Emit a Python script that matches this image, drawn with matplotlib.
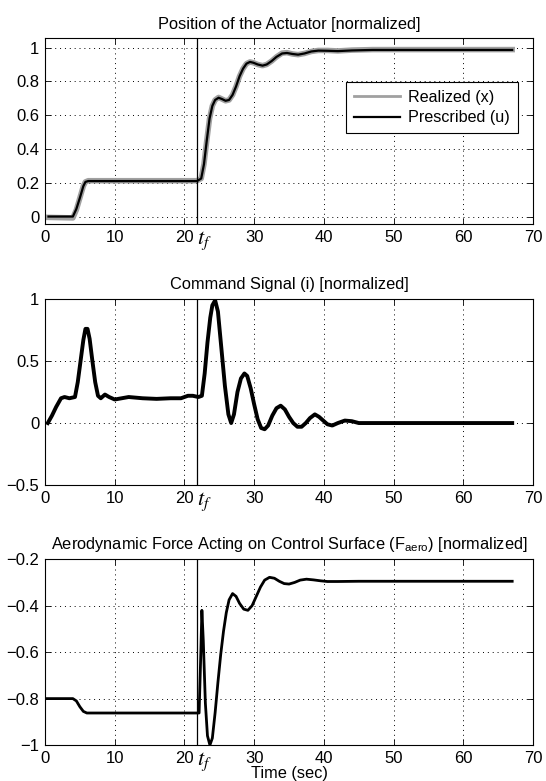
import numpy as np
import matplotlib
matplotlib.use("Agg")
import matplotlib.pyplot as plt
from matplotlib.transforms import blended_transform_factory

plt.rcParams['font.family'] = ['Liberation Sans', 'DejaVu Sans']
plt.rcParams['mathtext.fontset'] = 'stix'

T_F = 21.85

# position of the actuator
t_u = [0.5, 4.0, 4.5, 5.0, 5.5, 5.8, 6.2, 21.8, 22.4, 22.8, 23.2, 23.6, 24.0, 24.4,
       24.9, 25.4, 25.9, 26.4, 26.9, 27.4, 27.9, 28.4, 28.9, 29.4, 29.9, 30.5, 31.2,
       31.8, 32.5, 33.2, 34.0, 34.7, 35.5, 36.3, 37.2, 38.2, 39.2, 40.5, 42, 44, 47, 67]
u_pres = [0, 0, 0.045, 0.11, 0.18, 0.205, 0.21, 0.21, 0.225, 0.31, 0.45, 0.58, 0.655,
          0.69, 0.703, 0.695, 0.685, 0.69, 0.72, 0.77, 0.83, 0.875, 0.905, 0.915, 0.91,
          0.9, 0.893, 0.9, 0.92, 0.945, 0.965, 0.968, 0.962, 0.958, 0.965, 0.977, 0.982,
          0.981, 0.979, 0.983, 0.986, 0.986]
x_real = [-0.005, -0.008, 0.04, 0.11, 0.18, 0.205, 0.212, 0.212, 0.225, 0.31, 0.45, 0.58,
          0.655, 0.69, 0.705, 0.695, 0.685, 0.69, 0.72, 0.77, 0.83, 0.875, 0.905, 0.915,
          0.91, 0.9, 0.893, 0.9, 0.92, 0.945, 0.967, 0.97, 0.962, 0.958, 0.965, 0.977,
          0.983, 0.983, 0.98, 0.985, 0.988, 0.988]

# command signal
t_i = [0.4, 1.0, 1.6, 2.3, 2.8, 3.5, 4.3, 4.7, 5.1, 5.5, 5.8, 6.1, 6.4, 6.8, 7.2, 7.6,
       8.0, 8.6, 9.2, 10, 11, 12, 14, 16, 18, 19.5, 20.5, 21.2, 22.0, 22.5, 22.9, 23.3,
       23.7, 24.0, 24.4, 24.8, 25.3, 25.8, 26.3, 26.7, 27.1, 27.6, 28.1, 28.6, 29.0,
       29.5, 30.0, 30.5, 31.0, 31.5, 32.0, 32.6, 33.2, 33.8, 34.4, 35.0, 35.6, 36.2,
       36.8, 37.4, 38.0, 38.7, 39.3, 39.9, 40.5, 41.2, 42, 43, 44, 45, 47, 50, 55, 60, 67]
i_cmd = [0, 0.06, 0.13, 0.2, 0.21, 0.2, 0.21, 0.33, 0.5, 0.67, 0.76, 0.76, 0.68, 0.5,
         0.33, 0.22, 0.2, 0.23, 0.21, 0.19, 0.2, 0.21, 0.2, 0.195, 0.2, 0.2, 0.22, 0.22,
         0.21, 0.22, 0.4, 0.65, 0.85, 0.95, 0.99, 0.9, 0.6, 0.3, 0.07, 0.0, 0.07, 0.25,
         0.36, 0.4, 0.38, 0.28, 0.15, 0.03, -0.04, -0.05, -0.02, 0.06, 0.12, 0.14, 0.11,
         0.05, 0.0, -0.03, -0.03, 0.0, 0.04, 0.07, 0.05, 0.02, -0.01, -0.02, 0.0, 0.02,
         0.015, 0.0, 0.0, 0.0, 0.0, 0.0, 0.0]

# aerodynamic force
t_f = [0.3, 4.0, 4.5, 5.0, 5.5, 6.0, 22.1, 22.35, 22.5, 22.7, 23.0, 23.3, 23.65, 24.0,
       24.4, 24.8, 25.2, 25.6, 26.0, 26.4, 26.9, 27.4, 27.9, 28.5, 29.1, 29.7, 30.3,
       30.9, 31.5, 32.2, 32.9, 33.6, 34.3, 35.0, 35.8, 36.6, 37.5, 38.5, 39.5, 40.5,
       42, 45, 50, 60, 67]
f_aero = [-0.8, -0.8, -0.81, -0.835, -0.855, -0.862, -0.862, -0.6, -0.42, -0.55, -0.82,
          -0.96, -1.0, -0.97, -0.86, -0.73, -0.61, -0.51, -0.43, -0.375, -0.348, -0.36,
          -0.39, -0.415, -0.42, -0.40, -0.36, -0.32, -0.29, -0.278, -0.282, -0.295,
          -0.305, -0.307, -0.30, -0.29, -0.286, -0.289, -0.293, -0.296, -0.296, -0.295,
          -0.295, -0.295, -0.295]

fig = plt.figure(figsize=(5.46, 7.81), dpi=100)
left, width, height = 0.0824, 0.894, 0.238
ax1 = fig.add_axes([left, 0.713, width, height])
ax2 = fig.add_axes([left, 0.379, width, height])
ax3 = fig.add_axes([left, 0.046, width, height])

TITLE_FS = 11.8


def style(ax, yticks, ylim):
    ax.set_xlim(0, 70)
    ax.set_ylim(*ylim)
    ax.set_xticks(range(0, 71, 10))
    ax.set_yticks(yticks)
    ax.set_yticklabels([f"{v:g}".replace("-", "\u2212") for v in yticks])
    ax.tick_params(direction='in', top=True, right=True, length=4, width=0.6,
                   labelsize=12, pad=4)
    ax.grid(True, color='k', linestyle=(0, (1, 4)), linewidth=0.7)
    for s in ax.spines.values():
        s.set_linewidth(0.8)
    ax.axvline(T_F, color='k', linewidth=0.9)
    tr = blended_transform_factory(ax.transData, ax.transAxes)
    ax.text(T_F - 0.1, -0.03, '$t_f$', transform=tr, ha='left', va='top',
            fontsize=16)


ax1.plot(t_u, x_real, color='#a0a0a0', linewidth=4, label='Realized (x)')
ax1.plot(t_u, u_pres, color='k', linewidth=1.6, label='Prescribed (u)')
style(ax1, [0, 0.2, 0.4, 0.6, 0.8, 1], (-0.045, 1.055))
ax1.set_title('Position of the Actuator [normalized]', fontsize=TITLE_FS, pad=7)
leg = ax1.legend(loc='upper right', bbox_to_anchor=(0.986, 0.81), fontsize=11.6,
                 fancybox=False, framealpha=1, edgecolor='k', handlelength=2.9,
                 borderpad=0.5, handletextpad=0.5, labelspacing=0.35)
leg.get_frame().set_linewidth(0.8)
leg.get_lines()[0].set_linewidth(2)

ax2.plot(t_i, i_cmd, color='k', linewidth=2.8)
style(ax2, [-0.5, 0, 0.5, 1], (-0.5, 1))
ax2.set_title('Command Signal (i) [normalized]', fontsize=TITLE_FS, pad=7)

ax3.plot(t_f, f_aero, color='k', linewidth=2.0)
style(ax3, [-1, -0.8, -0.6, -0.4, -0.2], (-1, -0.2))
ax3.set_title(r'Aerodynamic Force Acting on Control Surface ($\mathregular{F_{aero}}$) [normalized]',
              fontsize=TITLE_FS, pad=7)
ax3.set_xlabel('Time (sec)', fontsize=TITLE_FS, labelpad=0)

fig.savefig('out.png', dpi=100)
